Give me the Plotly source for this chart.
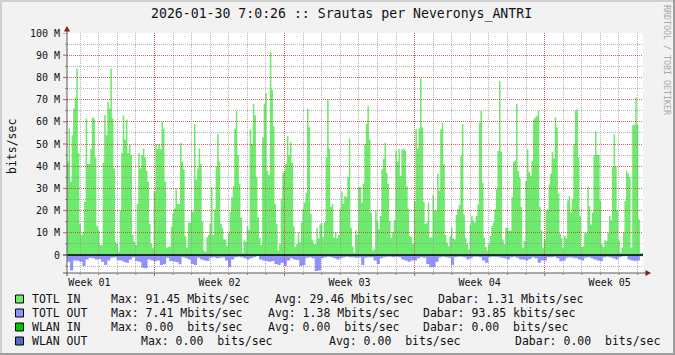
import plotly.graph_objects as go
import pandas as pd

# ---------------- data ----------------
TITLE = "2026-01-30 7:0:26 :: Srautas per Neveronys_ANTRI"
END_TIME = "2026-01-30 07:00:26"
SPAN_DAYS = 31

# inbound traffic, Mbit/s, one value per 2 h step
tot_in_mbps = [
    # first ~week
    42, 57, 33, 54, 66, 71, 84, 46, 14, 9, 10.5, 24, 61.5, 41, 41, 47.6, 62, 61.5, 44, 13,
    11, 4.5, 4.5, 41.6, 63, 54, 69, 66, 84, 61.5, 39, 6, 5, 1.5, 20, 46, 63, 52, 61, 46,
    50, 45, 9, 6, 4.5, 23, 46, 39, 45, 48, 44, 38, 33, 14, 5, 3, 28.5, 50, 47.6, 50,
    47.6, 60, 57, 33, 3.3, 3.6, 4, 12.6, 18.6, 21, 30, 23, 23, 50.6, 42, 38.6, 8.6, 3.3, 14.6, 14.6,
    20, 19.5, 59, 34, 39, 48, 41,
    # second part
    15, 2, 1.5, 8, 9, 14, 30.6, 9, 20.5, 40, 54.6, 42, 14, 12, 7, 7, 4, 10, 19.5, 26,
    31, 57, 65, 45, 32, 17, 1, 6.6, 6, 13, 11.4, 56.6, 50, 68, 63, 35, 17, 7.8, 4.5, 53,
    68, 73, 38, 36, 91.5, 74.6, 58, 23, 14, 2, 5, 25.5, 37, 38, 41, 53.6, 45, 51, 41.6, 13,
    3.6, 5, 10, 5.7, 14.7, 21, 23.6, 28, 66, 57.6, 18.6, 7, 5, 5, 12.3, 7.5, 13.8, 14.4, 8, 15,
    44, 70, 48, 21.6, 23, 7.8, 10.5, 7.5, 9, 21, 28.5, 23, 26.6,
    # third part
    26, 35, 52.5, 12.3, 4, 1, 11, 9, 30.6, 30.6, 23.6, 32, 50, 59, 67, 52, 19, 2, 2.6, 19.8,
    15.6, 11.6, 17.6, 38.6, 43.4, 50.6, 37, 32, 15.3, 7.8, 10.5, 15.6, 47, 42, 47.6, 35.6, 47.6, 47.6, 47, 31,
    21, 8.6, 8, 5, 24, 56.6, 48, 57, 79.6, 57.4, 24, 14, 14.6, 23.6, 7.8, 8, 27, 20, 20, 36.6,
    28.8, 56.6, 59.6, 41, 9, 5.5, 4, 8.6, 12.3, 7.5, 7, 18, 20.6, 22.5, 44.6, 59, 18.3, 7.8, 4.8, 2.6,
    13.8, 17.6, 15.6, 14.6, 17.6, 22.8, 59.6, 65, 32.6, 7.8, 3.6, 2, 4.8, 8.6,
    # last part
    13, 14.6, 20.6, 29.6, 47, 78.4, 46.5, 7, 5, 12.3, 12.3, 10.8, 11, 26, 42, 42.6, 68, 37.8, 34.8, 21.6,
    3, 6.3, 33.3, 47.6, 37.5, 35.6, 42.3, 61, 62, 62.6, 65, 21.6, 11, 3, 7, 20, 20.6, 31.8, 36.6, 46.5,
    43.5, 62, 57.4, 27.6, 9.6, 7.5, 3, 8.6, 7.5, 24.6, 26.6, 19, 25, 50, 65, 65.6, 44, 17.6, 3.6, 4,
    10, 10, 31, 22, 13.8, 19, 45, 55.8, 45.3, 45, 24.6, 4.8, 3.6, 6.6, 6.3, 10, 17.6, 15.6, 39.6, 54.4,
    40, 20, 6.6, 1, 3.3, 10, 24.3, 38, 36.6, 35, 3.3, 58.4, 58.8, 71, 58.8, 16, 1, 1,
]

# outbound traffic, Mbit/s, one value per 4 h step (drawn below zero)
tot_out_mbps = [
    3.0, 7.0, 2.5, 2.6, 3.0, 5.0, 2.0, 1.2, 1.5, 2.0, 1.8, 3.0, 4.5, 2.5, 1.2, 1.0, 2.4, 2.5, 3.0, 3.5,
    2.0, 1.0, 2.7, 3.0, 5.7, 6.0, 2.0, 2.5, 2.8, 2.5, 4.5, 4.0, 1.2, 2.7, 2.8, 3.2, 4.2, 1.0, 1.5, 2.0,
    4.0, 4.5, 1.2, 2.0, 2.5, 2.7,
    1.2, 1.0, 1.5, 1.2, 1.0, 2.5, 5.4, 2.0, 1.0, 0.8, 1.0, 1.5, 2.0, 1.5, 1.0, 0.5, 2.0, 2.5, 2.7, 3.0,
    2.7, 4.0, 4.5, 3.5, 5.0, 2.5, 1.5, 2.0, 2.2, 5.0, 4.5, 1.2, 1.0, 1.5, 7.2, 7.0, 1.5, 1.0, 0.8, 1.0,
    1.5, 2.0, 1.5, 1.0, 0.8, 1.0,
    1.0, 1.2, 1.0, 4.5, 1.2, 1.0, 1.0, 2.5, 4.0, 1.5, 1.0, 0.8, 0.8, 1.0, 0.8, 1.0, 2.0, 2.5, 3.0, 2.5,
    2.5, 1.5, 1.0, 1.2, 4.0, 5.5, 5.4, 3.0, 1.0, 0.8, 1.0, 1.2, 4.5, 1.0, 0.8, 0.8, 1.0, 2.0, 1.5, 0.8,
    0.8, 1.0, 2.5, 3.5, 1.0, 0.8, 0.8,
    1.0, 1.2, 1.5, 2.0, 1.0, 0.8, 1.2, 2.0, 2.0, 2.5, 1.8, 1.0, 1.5, 3.5, 2.5, 2.5, 1.0, 1.0, 0.8, 1.5,
    2.8, 2.5, 1.2, 1.0, 1.2, 1.5, 2.0, 2.5, 1.2, 1.0, 1.5, 2.0, 2.5, 2.7, 1.0, 0.8, 1.0, 1.5, 2.0, 1.0,
    0.5, 0.5, 2.0, 2.5, 2.7, 2.5, 0.5,
]

y_tick_values = [0, 10, 20, 30, 40, 50, 60, 70, 80, 90, 100]
y_tick_labels = ["0", "10 M", "20 M", "30 M", "40 M", "50 M", "60 M", "70 M", "80 M", "90 M", "100 M"]
y_minor_values = [-5, 5, 15, 25, 35, 45, 55, 65, 75, 85, 95]
Y_MIN, Y_MAX = -8.1, 100

week_start_dates = ["2026-01-04", "2026-01-11", "2026-01-18", "2026-01-25"]
week_label_dates = ["2025-12-31 12:00", "2026-01-07 12:00", "2026-01-14 12:00",
                    "2026-01-21 12:00", "2026-01-28 12:00"]
week_labels = ["Week 01", "Week 02", "Week 03", "Week 04", "Week 05"]
first_day, last_day = "2025-12-31", "2026-01-30"

legend_names = ["TOTL IN", "TOTL OUT", "WLAN IN", "WLAN OUT"]
legend_max = ["Max: 91.45 Mbits/sec", "Max: 7.41 Mbits/sec",
              "Max: 0.00\u00a0 bits/sec", "Max: 0.00\u00a0 bits/sec"]
legend_avg = ["Avg: 29.46 Mbits/sec", "Avg: 1.38 Mbits/sec",
              "Avg: 0.00\u00a0 bits/sec", "Avg: 0.00\u00a0 bits/sec"]
legend_now = ["Dabar: 1.31 Mbits/sec", "Dabar: 93.85 kbits/sec",
              "Dabar: 0.00\u00a0 bits/sec", "Dabar: 0.00\u00a0 bits/sec"]

# ---------------- style / layout ----------------
COL_IN = "#6EEB6E"
COL_OUT = "#9090FF"
legend_colors = [COL_IN, COL_OUT, "#00C400", "#4F6FC4"]
FONT = "DejaVu Sans Mono"
W, H = 675, 355
L, R, T, B = 67, 32, 33, 82
PW, PH = W - L - R, H - T - B

legend_row_y = [299, 313, 327, 341]
legend_name_x = 30
legend_max_x = [109, 109, 109, 139]
legend_avg_x = [273, 266, 266, 327]
legend_now_x = [436, 421, 421, 513]

GRID = "rgba(143,143,143,0.65)"
MGRID = "rgba(225,60,60,0.85)"
DASH = "1px,1px"


def px(x):
    return (x - L) / PW


def py(y):
    return (H - B - y) / PH


t_end = pd.Timestamp(END_TIME)
t_start = t_end - pd.Timedelta(days=SPAN_DAYS)
span = t_end - t_start

step_in = span / len(tot_in_mbps)
x_in = [t_start + step_in * i for i in range(len(tot_in_mbps) + 1)]
y_in = tot_in_mbps + [tot_in_mbps[-1]]

step_out = span / len(tot_out_mbps)
x_out = [t_start + step_out * i for i in range(len(tot_out_mbps) + 1)]
y_out = [-v for v in tot_out_mbps] + [-tot_out_mbps[-1]]

days = pd.date_range(first_day, last_day, freq="D")
week_starts = pd.to_datetime(week_start_dates)
plain_days = [d for d in days if d not in week_starts]

fig = go.Figure()
fig.add_trace(go.Scatter(x=x_in, y=y_in, mode="lines", line=dict(width=0, shape="hv", color=COL_IN),
                         fill="tozeroy", fillcolor=COL_IN, hoverinfo="skip", showlegend=False))
fig.add_trace(go.Scatter(x=x_out, y=y_out, mode="lines", line=dict(width=0, shape="hv", color=COL_OUT),
                         fill="tozeroy", fillcolor=COL_OUT, hoverinfo="skip", showlegend=False))
# second subplot on the same area: minor (daily / 5 M) grid painted above the data
fig.add_trace(go.Scatter(x=[t_start], y=[Y_MIN - 10], mode="markers", xaxis="x2", yaxis="y2",
                         marker=dict(size=1, opacity=0), hoverinfo="skip", showlegend=False))
# third subplot on the same area: major (weekly / 10 M) grid painted above everything
fig.add_trace(go.Scatter(x=[t_start], y=[Y_MIN - 10], mode="markers", xaxis="x3", yaxis="y3",
                         marker=dict(size=1, opacity=0), hoverinfo="skip", showlegend=False))

shapes = []
# white canvas under everything
shapes.append(dict(type="rect", xref="paper", yref="paper", x0=0, x1=1, y0=0, y1=1,
                   fillcolor="white", line=dict(width=0), layer="below"))
for d in plain_days:
    shapes.append(dict(type="line", xref="x", yref="paper", x0=d, x1=d, y0=py(273), y1=py(275),
                       line=dict(color="#8f8f8f", width=1), layer="above"))
for v in y_minor_values:
    shapes.append(dict(type="line", xref="paper", yref="y", x0=px(65), x1=px(67), y0=v, y1=v,
                       line=dict(color="#8f8f8f", width=1), layer="above"))
for d in week_starts:
    shapes.append(dict(type="line", xref="x", yref="paper", x0=d, x1=d, y0=py(273), y1=py(276),
                       line=dict(color="#de4f4f", width=1), layer="above"))
for v in y_tick_values:
    shapes.append(dict(type="line", xref="paper", yref="y", x0=px(63), x1=px(67), y0=v, y1=v,
                       line=dict(color="#de4f4f" if v else "#1f1f1f", width=1), layer="above"))

# zero line
shapes.append(dict(type="line", xref="paper", yref="y", x0=0, x1=1, y0=0, y1=0,
                   line=dict(color="black", width=1.7), layer="above"))
# axes
shapes.append(dict(type="line", xref="paper", yref="paper", x0=px(67), x1=px(67), y0=py(276), y1=py(30),
                   line=dict(color="#5a5a5a", width=1), layer="above"))
shapes.append(dict(type="line", xref="paper", yref="paper", x0=px(63), x1=px(646), y0=py(273), y1=py(273),
                   line=dict(color="#5a5a5a", width=1), layer="above"))


def path(points):
    return "M " + " L ".join(f"{px(a)},{py(b)}" for a, b in points) + " Z"


shapes.append(dict(type="path", xref="paper", yref="paper", path=path([(64, 31.5), (70, 31.5), (67, 26)]),
                   fillcolor="#801f1f", line=dict(width=0), layer="above"))
shapes.append(dict(type="path", xref="paper", yref="paper", path=path([(645.5, 270), (645.5, 276), (651, 273)]),
                   fillcolor="#801f1f", line=dict(width=0), layer="above"))
# 3D border of the image
shapes.append(dict(type="rect", xref="paper", yref="paper", x0=px(0), x1=px(W), y0=py(0), y1=py(2),
                   fillcolor="#cfcfcf", line=dict(width=0), layer="above"))
shapes.append(dict(type="rect", xref="paper", yref="paper", x0=px(0), x1=px(2), y0=py(0), y1=py(H),
                   fillcolor="#cfcfcf", line=dict(width=0), layer="above"))
shapes.append(dict(type="rect", xref="paper", yref="paper", x0=px(W - 2), x1=px(W), y0=py(0), y1=py(H),
                   fillcolor="#9e9e9e", line=dict(width=0), layer="above"))
shapes.append(dict(type="rect", xref="paper", yref="paper", x0=px(0), x1=px(W), y0=py(H - 2), y1=py(H),
                   fillcolor="#9e9e9e", line=dict(width=0), layer="above"))

annotations = []
annotations.append(dict(text=TITLE, xref="paper", yref="paper", x=px(341), y=py(14), showarrow=False,
                        xanchor="center", yanchor="middle", font=dict(family=FONT, size=13.2, color="#111")))
annotations.append(dict(text="bits/sec", xref="paper", yref="paper", x=px(12), y=py(147), showarrow=False,
                        textangle=-90, xanchor="center", yanchor="middle",
                        font=dict(family=FONT, size=11.5, color="#111")))
annotations.append(dict(text="RRDTOOL / TOBI OETIKER", xref="paper", yref="paper", x=px(667), y=py(60),
                        showarrow=False, textangle=90, xanchor="center", yanchor="middle",
                        font=dict(family=FONT, size=8.3, color="#a8a8a8")))
for i in range(len(legend_names)):
    yy = legend_row_y[i]
    shapes.append(dict(type="rect", xref="paper", yref="paper", x0=px(15.5), x1=px(23.5),
                       y0=py(yy - 4), y1=py(yy + 4), fillcolor=legend_colors[i],
                       line=dict(color="black", width=1), layer="above"))
    for txt, xx in ((legend_names[i], legend_name_x), (legend_max[i], legend_max_x[i]),
                    (legend_avg[i], legend_avg_x[i]), (legend_now[i], legend_now_x[i])):
        annotations.append(dict(text=txt, xref="paper", yref="paper", x=px(xx), y=py(yy), showarrow=False,
                                xanchor="left", yanchor="middle",
                                font=dict(family=FONT, size=11.5, color="#111")))


def grid_x(anchor, vals, color):
    return dict(type="date", range=[t_start, t_end], domain=[0, 1], anchor=anchor,
                tickmode="array", tickvals=vals, showticklabels=False, ticks="",
                showgrid=True, gridcolor=color, griddash=DASH, gridwidth=1,
                zeroline=False, showline=False, fixedrange=True)


def grid_y(anchor, vals, color):
    return dict(range=[Y_MIN, Y_MAX], domain=[0, 1], anchor=anchor,
                tickmode="array", tickvals=vals, showticklabels=False, ticks="",
                showgrid=True, gridcolor=color, griddash=DASH, gridwidth=1,
                zeroline=False, showline=False, fixedrange=True)


fig.update_layout(
    width=W, height=H, margin=dict(l=L, r=R, t=T, b=B, pad=0),
    paper_bgcolor="#f2f2f2", plot_bgcolor="rgba(0,0,0,0)",
    showlegend=False, shapes=shapes, annotations=annotations,
    xaxis=dict(type="date", range=[t_start, t_end], tickmode="array", domain=[0, 1], anchor="y",
               tickvals=pd.to_datetime(week_label_dates), ticktext=week_labels,
               showgrid=False, zeroline=False, showline=False, ticks="",
               ticklabelstandoff=2, tickfont=dict(family=FONT, size=10, color="#111"), fixedrange=True),
    yaxis=dict(range=[Y_MIN, Y_MAX], tickmode="array", tickvals=y_tick_values, ticktext=y_tick_labels,
               domain=[0, 1], anchor="x",
               showgrid=False, zeroline=False, showline=False, ticks="",
               ticklabelstandoff=6, tickfont=dict(family=FONT, size=10, color="#111"), fixedrange=True),
    xaxis2=grid_x("y2", plain_days, GRID),
    yaxis2=grid_y("x2", y_minor_values, GRID),
    xaxis3=grid_x("y3", list(week_starts), MGRID),
    yaxis3=grid_y("x3", y_tick_values[1:], MGRID),
)

fig.write_html("out.html")
